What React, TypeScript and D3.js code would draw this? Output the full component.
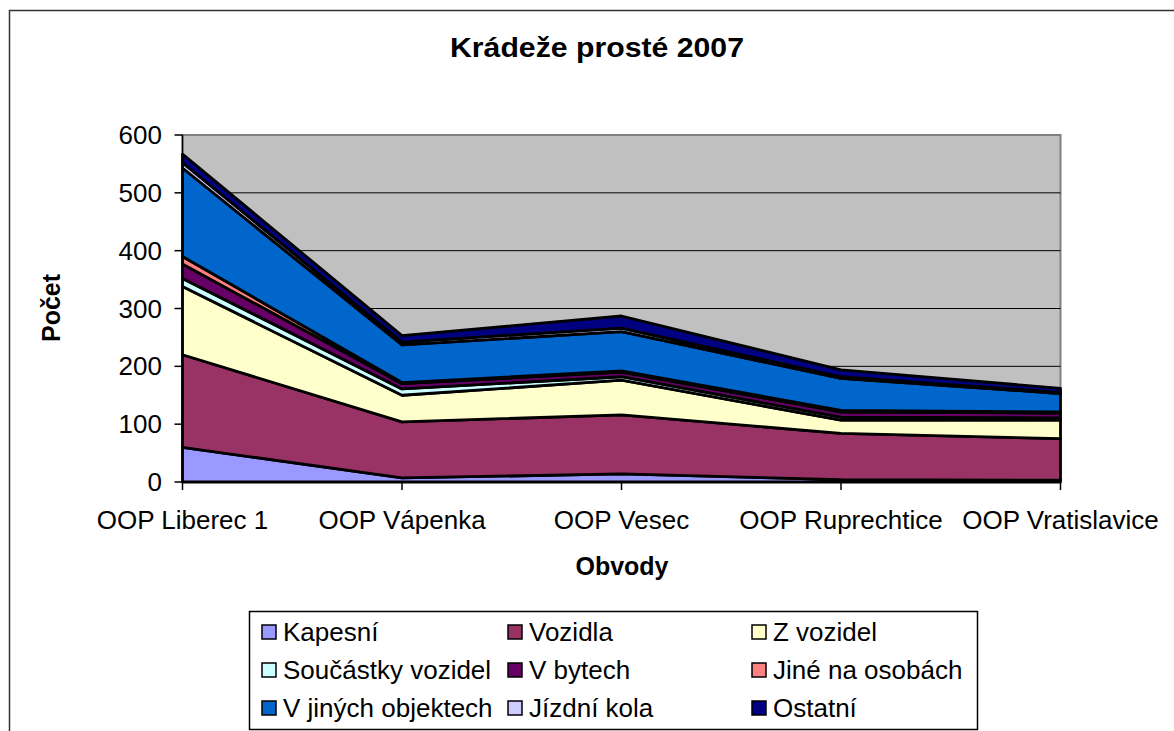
import React from "react";
import * as d3 from "d3";

const categories = ["OOP Liberec 1", "OOP Vápenka", "OOP Vesec", "OOP Ruprechtice", "OOP Vratislavice"];
const seriesNames = ["Kapesní", "Vozidla", "Z vozidel", "Součástky vozidel", "V bytech", "Jiné na osobách", "V jiných objektech", "Jízdní kola", "Ostatní"];
const kapesni = [60, 7, 14, 4, 3];
const vozidla = [160, 97, 102, 80, 72];
const zVozidel = [118, 46, 60, 23, 32];
const soucastky = [14, 11, 6, 5, 4];
const vBytech = [25, 9, 8, 9, 8];
const jine = [13, 2, 2, 3, 2];
const vJinych = [153, 65, 68, 55, 32];
const jizdniKola = [9, 5, 6, 3, 2];
const ostatni = [15, 11, 21, 12, 7];
const colors = ["#9999FF", "#993366", "#FFFFCC", "#CCFFFF", "#660066", "#FF8080", "#0066CC", "#CCCCFF", "#000080"];
const yTicks = [0, 100, 200, 300, 400, 500, 600];

const seriesValues = [kapesni, vozidla, zVozidel, soucastky, vBytech, jine, vJinych, jizdniKola, ostatni];

export default function App() {
  const W = 1174, H = 731;
  const left = 182.5, right = 1060.5, top = 135, bottom = 482;
  const x = d3.scalePoint<string>().domain(categories).range([left, right]);
  const y = d3.scaleLinear().domain([0, 600]).range([bottom, top]);
  const rows = categories.map((c, i) => {
    const r: any = { cat: c };
    seriesNames.forEach((s, j) => (r[s] = seriesValues[j][i]));
    return r;
  });
  const stacked = d3.stack<any>().keys(seriesNames)(rows);
  const area = d3
    .area<any>()
    .x((d) => x(d.data.cat)!)
    .y0((d) => y(d[0]))
    .y1((d) => y(d[1]));
  const font = "'Liberation Sans', Arial, sans-serif";
  const legendCols = [262, 508, 752];
  const legendRows = [632, 670, 708];
  return (
    <svg width={W} height={H} style={{ position: "absolute", left: 0, top: 0, display: "block" }} fontFamily={font}>
      <rect x={0} y={0} width={W} height={H} fill="#fff" />
      <rect x={9.5} y={10.5} width={1200} height={800} fill="#fff" stroke="#333" strokeWidth={1.5} />
      <text x={597} y={57} textAnchor="middle" fontSize={27} fontWeight="bold" textLength={294} lengthAdjust="spacingAndGlyphs">
        Krádeže prosté 2007
      </text>
      <rect x={left} y={top} width={right - left} height={bottom - top} fill="#C0C0C0" stroke="#808080" strokeWidth={2} />
      {yTicks.slice(1, -1).map((t) => (
        <line key={t} x1={left} x2={right} y1={y(t)} y2={y(t)} stroke="#000" strokeWidth={1} />
      ))}
      {stacked.map((s, i) => (
        <path key={s.key} d={area(s as any)!} fill={colors[i]} stroke="#000" strokeWidth={2.8} strokeLinejoin="round" />
      ))}
      <line x1={left} x2={left} y1={top} y2={bottom} stroke="#000" strokeWidth={1.5} />
      <line x1={left} x2={right} y1={bottom} y2={bottom} stroke="#000" strokeWidth={1.5} />
      {yTicks.map((t) => (
        <g key={t}>
          <line x1={left - 8} x2={left} y1={y(t)} y2={y(t)} stroke="#000" strokeWidth={1.5} />
          <text x={162} y={y(t) + 9} textAnchor="end" fontSize={26}>
            {t}
          </text>
        </g>
      ))}
      {categories.map((c) => (
        <g key={c}>
          <line x1={x(c)} x2={x(c)} y1={bottom} y2={bottom + 8} stroke="#000" strokeWidth={1.5} />
          <text x={x(c)} y={529} textAnchor="middle" fontSize={26}>
            {c}
          </text>
        </g>
      ))}
      <text x={622} y={575} textAnchor="middle" fontSize={25} fontWeight="bold">
        Obvody
      </text>
      <text transform={`translate(60,308) rotate(-90)`} textAnchor="middle" fontSize={25} fontWeight="bold">
        Počet
      </text>
      <rect x={249.5} y={611.5} width={728} height={118} fill="#fff" stroke="#000" strokeWidth={1.5} />
      {seriesNames.map((s, i) => {
        const cx = legendCols[i % 3];
        const cy = legendRows[Math.floor(i / 3)];
        return (
          <g key={s}>
            <rect x={cx} y={cy - 7} width={14} height={14} fill={colors[i]} stroke="#000" strokeWidth={1.5} />
            <text x={cx + 21} y={cy + 9} fontSize={26}>
              {s}
            </text>
          </g>
        );
      })}
    </svg>
  );
}
